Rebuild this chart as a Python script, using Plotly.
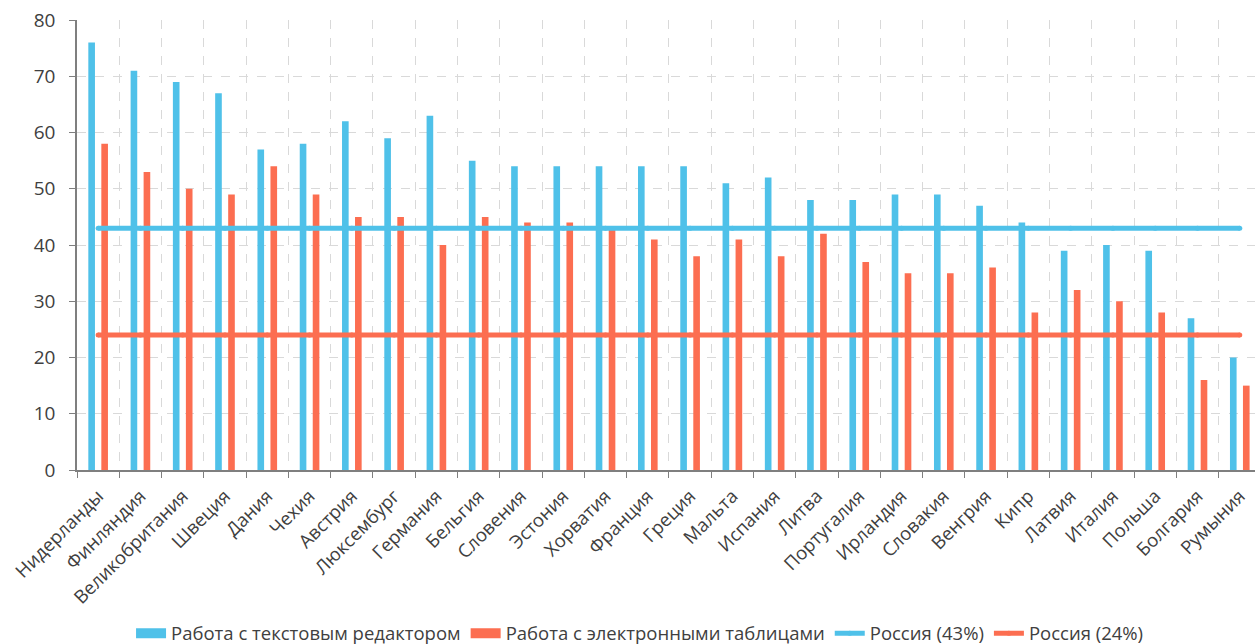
import plotly.graph_objects as go

countries = ["Нидерланды", "Финляндия", "Великобритания", "Швеция", "Дания", "Чехия",
             "Австрия", "Люксембург", "Германия", "Бельгия", "Словения", "Эстония",
             "Хорватия", "Франция", "Греция", "Мальта", "Испания", "Литва",
             "Португалия", "Ирландия", "Словакия", "Венгрия", "Кипр", "Латвия",
             "Италия", "Польша", "Болгария", "Румыния"]
text_editor = [76, 71, 69, 67, 57, 58, 62, 59, 63, 55, 54, 54, 54, 54, 54, 51, 52, 48,
               48, 49, 49, 47, 44, 39, 40, 39, 27, 20]
spreadsheets = [58, 53, 50, 49, 54, 49, 45, 45, 40, 45, 44, 44, 43, 41, 38, 41, 38, 42,
                37, 35, 35, 36, 28, 32, 30, 28, 16, 15]
russia_text = 43
russia_sheet = 24

series_names = ["Работа с текстовым редактором", "Работа с электронными таблицами",
                "Россия (43%)", "Россия (24%)"]

BLUE = "#4FC1E9"
RED = "#FC6E51"
TXT = "#404040"
FONT = "Open Sans"

fig = go.Figure()
fig.add_trace(go.Bar(x=countries, y=text_editor, marker=dict(color=BLUE, line_width=0),
                     name=series_names[0], legendgroup="a", showlegend=False))
fig.add_trace(go.Bar(x=countries, y=spreadsheets, marker=dict(color=RED, line_width=0),
                     name=series_names[1], legendgroup="b", showlegend=False))
# legend proxies for bar series (wide rectangles)
fig.add_trace(go.Scatter(x=[None], y=[None], mode="lines", line=dict(color=BLUE, width=13),
                         name=series_names[0], legendgroup="a"))
fig.add_trace(go.Scatter(x=[None], y=[None], mode="lines", line=dict(color=RED, width=13),
                         name=series_names[1], legendgroup="b"))
fig.add_trace(go.Scatter(x=countries, y=[russia_text] * len(countries), mode="lines+markers",
                         line=dict(color=BLUE, width=5), marker=dict(color=BLUE, size=5),
                         name=series_names[2]))
fig.add_trace(go.Scatter(x=countries, y=[russia_sheet] * len(countries), mode="lines+markers",
                         line=dict(color=RED, width=5), marker=dict(color=RED, size=5),
                         name=series_names[3]))

fig.update_layout(
    width=1255, height=644,
    margin=dict(l=77, r=0, t=20, b=174),
    paper_bgcolor="white", plot_bgcolor="white",
    barmode="group", bargap=0.385, bargroupgap=0.49,
    font=dict(family=FONT, color=TXT, size=18),
    showlegend=True,
    legend=dict(orientation="h", xref="container", yref="container",
                x=0.51, xanchor="center", y=0.016, yanchor="middle",
                font=dict(family=FONT, size=18.5, color=TXT),
                itemwidth=30, tracegroupgap=0),
)
fig.update_xaxes(
    type="category", range=[-0.5, 27.36],
    tickson="boundaries", ticks="outside", ticklen=6, tickcolor="#7f7f7f",
    tickangle=-45, tickfont=dict(family=FONT, size=18.5, color=TXT),
    ticklabelstandoff=6,
    showline=True, linecolor="#7f7f7f", linewidth=2,
    showgrid=True, gridcolor="#d9d9d9", griddash="dash", gridwidth=1,
)
fig.update_yaxes(
    range=[0, 80], dtick=10, ticks="outside", ticklen=6, tickcolor="#7f7f7f",
    tickfont=dict(family=FONT, size=19, color=TXT),
    ticklabelstandoff=10,
    showline=True, linecolor="#7f7f7f", linewidth=1.5,
    showgrid=True, gridcolor="#d9d9d9", griddash="dash", gridwidth=1,
    zeroline=False,
)

fig.write_html("out.html")
